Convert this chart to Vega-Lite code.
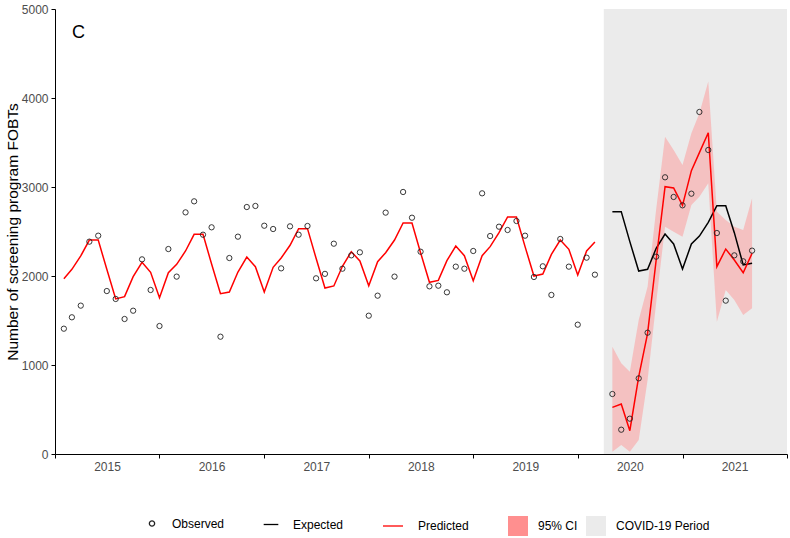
{
  "$schema": "https://vega.github.io/schema/vega-lite/v6.json",
  "width": 732,
  "height": 445,
  "autosize": "none",
  "padding": {"left": 55, "top": 9, "right": 3, "bottom": 84},
  "background": "white",
  "config": {
    "font": "Liberation Sans",
    "view": {"stroke": null},
    "axis": {
      "grid": false,
      "domainColor": "black",
      "domainWidth": 1,
      "tickColor": "black",
      "tickWidth": 1,
      "tickSize": 4,
      "labelColor": "#4d4d4d",
      "labelFontSize": 12,
      "labelFont": "Liberation Sans",
      "titleFont": "Liberation Sans",
      "titleColor": "black",
      "titleFontWeight": "normal"
    },
    "legend": {"labelFont": "Liberation Sans", "labelFontSize": 12, "labelColor": "black", "padding": 0}
  },
  "datasets": {
    "monthly": [
      {"date": "2015-02-01", "period": "pre", "observed": 1408, "predicted": 1970},
      {"date": "2015-03-01", "period": "pre", "observed": 1536, "predicted": 2075},
      {"date": "2015-04-01", "period": "pre", "observed": 1667, "predicted": 2225},
      {"date": "2015-05-01", "period": "pre", "observed": 2386, "predicted": 2404},
      {"date": "2015-06-01", "period": "pre", "observed": 2453, "predicted": 2404},
      {"date": "2015-07-01", "period": "pre", "observed": 1831, "predicted": 2075},
      {"date": "2015-08-01", "period": "pre", "observed": 1742, "predicted": 1742},
      {"date": "2015-09-01", "period": "pre", "observed": 1517, "predicted": 1768},
      {"date": "2015-10-01", "period": "pre", "observed": 1610, "predicted": 1993},
      {"date": "2015-11-01", "period": "pre", "observed": 2187, "predicted": 2154},
      {"date": "2015-12-01", "period": "pre", "observed": 1843, "predicted": 2041},
      {"date": "2016-01-01", "period": "pre", "observed": 1438, "predicted": 1757},
      {"date": "2016-02-01", "period": "pre", "observed": 2303, "predicted": 2037},
      {"date": "2016-03-01", "period": "pre", "observed": 1993, "predicted": 2131},
      {"date": "2016-04-01", "period": "pre", "observed": 2715, "predicted": 2281},
      {"date": "2016-05-01", "period": "pre", "observed": 2839, "predicted": 2468},
      {"date": "2016-06-01", "period": "pre", "observed": 2464, "predicted": 2468},
      {"date": "2016-07-01", "period": "pre", "observed": 2547, "predicted": 2135},
      {"date": "2016-08-01", "period": "pre", "observed": 1318, "predicted": 1801},
      {"date": "2016-09-01", "period": "pre", "observed": 2202, "predicted": 1820},
      {"date": "2016-10-01", "period": "pre", "observed": 2442, "predicted": 2045},
      {"date": "2016-11-01", "period": "pre", "observed": 2775, "predicted": 2213},
      {"date": "2016-12-01", "period": "pre", "observed": 2787, "predicted": 2105},
      {"date": "2017-01-01", "period": "pre", "observed": 2565, "predicted": 1820},
      {"date": "2017-02-01", "period": "pre", "observed": 2528, "predicted": 2097},
      {"date": "2017-03-01", "period": "pre", "observed": 2086, "predicted": 2202},
      {"date": "2017-04-01", "period": "pre", "observed": 2558, "predicted": 2345},
      {"date": "2017-05-01", "period": "pre", "observed": 2464, "predicted": 2532},
      {"date": "2017-06-01", "period": "pre", "observed": 2562, "predicted": 2532},
      {"date": "2017-07-01", "period": "pre", "observed": 1974, "predicted": 2199},
      {"date": "2017-08-01", "period": "pre", "observed": 2024, "predicted": 1865},
      {"date": "2017-09-01", "period": "pre", "observed": 2363, "predicted": 1888},
      {"date": "2017-10-01", "period": "pre", "observed": 2082, "predicted": 2109},
      {"date": "2017-11-01", "period": "pre", "observed": 2232, "predicted": 2273},
      {"date": "2017-12-01", "period": "pre", "observed": 2266, "predicted": 2169},
      {"date": "2018-01-01", "period": "pre", "observed": 1554, "predicted": 1891},
      {"date": "2018-02-01", "period": "pre", "observed": 1779, "predicted": 2161},
      {"date": "2018-03-01", "period": "pre", "observed": 2712, "predicted": 2262},
      {"date": "2018-04-01", "period": "pre", "observed": 1993, "predicted": 2404},
      {"date": "2018-05-01", "period": "pre", "observed": 2944, "predicted": 2596},
      {"date": "2018-06-01", "period": "pre", "observed": 2655, "predicted": 2596},
      {"date": "2018-07-01", "period": "pre", "observed": 2273, "predicted": 2262},
      {"date": "2018-08-01", "period": "pre", "observed": 1884, "predicted": 1929},
      {"date": "2018-09-01", "period": "pre", "observed": 1891, "predicted": 1951},
      {"date": "2018-10-01", "period": "pre", "observed": 1817, "predicted": 2172},
      {"date": "2018-11-01", "period": "pre", "observed": 2105, "predicted": 2337},
      {"date": "2018-12-01", "period": "pre", "observed": 2082, "predicted": 2228},
      {"date": "2019-01-01", "period": "pre", "observed": 2281, "predicted": 1947},
      {"date": "2019-02-01", "period": "pre", "observed": 2929, "predicted": 2228},
      {"date": "2019-03-01", "period": "pre", "observed": 2449, "predicted": 2330},
      {"date": "2019-04-01", "period": "pre", "observed": 2554, "predicted": 2487},
      {"date": "2019-05-01", "period": "pre", "observed": 2517, "predicted": 2663},
      {"date": "2019-06-01", "period": "pre", "observed": 2618, "predicted": 2663},
      {"date": "2019-07-01", "period": "pre", "observed": 2453, "predicted": 2330},
      {"date": "2019-08-01", "period": "pre", "observed": 1989, "predicted": 2000},
      {"date": "2019-09-01", "period": "pre", "observed": 2109, "predicted": 2022},
      {"date": "2019-10-01", "period": "pre", "observed": 1787, "predicted": 2243},
      {"date": "2019-11-01", "period": "pre", "observed": 2416, "predicted": 2404},
      {"date": "2019-12-01", "period": "pre", "observed": 2105, "predicted": 2300},
      {"date": "2020-01-01", "period": "pre", "observed": 1453, "predicted": 2011},
      {"date": "2020-02-01", "period": "pre", "observed": 2206, "predicted": 2281},
      {"date": "2020-03-01", "period": "pre", "observed": 2015, "predicted": 2382},
      {"date": "2020-05-01", "period": "covid", "observed": 674, "predicted": 524, "lower": 26, "upper": 1206, "expected": 2723},
      {"date": "2020-06-01", "period": "covid", "observed": 273, "predicted": 562, "lower": 101, "upper": 1019, "expected": 2723},
      {"date": "2020-07-01", "period": "covid", "observed": 397, "predicted": 262, "lower": 26, "upper": 925, "expected": 2386},
      {"date": "2020-08-01", "period": "covid", "observed": 850, "predicted": 869, "lower": 157, "upper": 1506, "expected": 2056},
      {"date": "2020-09-01", "period": "covid", "observed": 1363, "predicted": 1356, "lower": 831, "upper": 1880, "expected": 2075},
      {"date": "2020-10-01", "period": "covid", "observed": 2217, "predicted": 2180, "lower": 1700, "upper": 2750, "expected": 2311},
      {"date": "2020-11-01", "period": "covid", "observed": 3109, "predicted": 3004, "lower": 2554, "upper": 3566, "expected": 2472},
      {"date": "2020-12-01", "period": "covid", "observed": 2888, "predicted": 2989, "lower": 2498, "upper": 3416, "expected": 2360},
      {"date": "2021-01-01", "period": "covid", "observed": 2794, "predicted": 2794, "lower": 2442, "upper": 3247, "expected": 2079},
      {"date": "2021-02-01", "period": "covid", "observed": 2925, "predicted": 3184, "lower": 2798, "upper": 3603, "expected": 2360},
      {"date": "2021-03-01", "period": "covid", "observed": 3843, "predicted": 3386, "lower": 2891, "upper": 3828, "expected": 2449},
      {"date": "2021-04-01", "period": "covid", "observed": 3416, "predicted": 3610, "lower": 3041, "upper": 4184, "expected": 2603},
      {"date": "2021-05-01", "period": "covid", "observed": 2483, "predicted": 2105, "lower": 1487, "upper": 2722, "expected": 2790},
      {"date": "2021-06-01", "period": "covid", "observed": 1723, "predicted": 2303, "lower": 1843, "upper": 2629, "expected": 2790},
      {"date": "2021-07-01", "period": "covid", "observed": 2232, "predicted": 2180, "lower": 1730, "upper": 2554, "expected": 2487},
      {"date": "2021-08-01", "period": "covid", "observed": 2165, "predicted": 2037, "lower": 1562, "upper": 2517, "expected": 2124},
      {"date": "2021-09-01", "period": "covid", "observed": 2285, "predicted": 2255, "lower": 1637, "upper": 2873, "expected": 2143}
    ],
    "covidPeriod": [{"start": "2020-04-01", "end": "2022-01-01"}],
    "panel": [{"label": "C"}]
  },
  "layer": [
    {
      "data": {"name": "covidPeriod"},
      "mark": {"type": "rect"},
      "encoding": {
        "x": {
          "field": "start",
          "type": "temporal",
          "scale": {"type": "utc", "domain": [{"year": 2015, "month": 1, "date": 1, "utc": true}, {"year": 2022, "month": 1, "date": 1, "utc": true}]},
          "axis": {
            "title": null,
            "values": [
              {"year": 2015, "month": 1, "date": 1, "utc": true},
              {"year": 2016, "month": 1, "date": 1, "utc": true},
              {"year": 2017, "month": 1, "date": 1, "utc": true},
              {"year": 2018, "month": 1, "date": 1, "utc": true},
              {"year": 2019, "month": 1, "date": 1, "utc": true},
              {"year": 2020, "month": 1, "date": 1, "utc": true},
              {"year": 2021, "month": 1, "date": 1, "utc": true},
              {"year": 2022, "month": 1, "date": 1, "utc": true}
            ],
            "labelExpr": "utcyear(datum.value) == 2022 ? '' : utcFormat(datum.value, '%Y')",
            "labelOffset": 52,
            "labelFlush": false,
            "labelOverlap": false,
            "labelPadding": 3
          }
        },
        "x2": {"field": "end"},
        "y": {
          "datum": 0,
          "type": "quantitative",
          "scale": {"domain": [0, 5000], "nice": false},
          "axis": {"title": "Number of screening program FOBTs", "titleFontSize": 15.5, "titlePadding": 1, "values": [0, 1000, 2000, 3000, 4000, 5000], "format": "d", "labelPadding": 3}
        },
        "y2": {"datum": 5000},
        "fill": {
          "datum": "COVID-19 Period",
          "scale": {"domain": ["95% CI", "COVID-19 Period"], "range": ["#ff8f8f", "#ebebeb"]},
          "legend": {
            "title": null,
            "orient": "none",
            "legendX": 452,
            "legendY": 506,
            "direction": "horizontal",
            "symbolType": "square",
            "symbolSize": 400,
            "labelOffset": 9,
            "columnPadding": 7
          }
        }
      }
    },
    {
      "data": {"name": "monthly"},
      "mark": {"type": "area", "fillOpacity": 0.45},
      "encoding": {
        "x": {"field": "date", "type": "temporal", "axis": {"title": null}},
        "y": {"field": "upper", "type": "quantitative", "axis": {"title": "Number of screening program FOBTs"}},
        "y2": {"field": "lower"},
        "fill": {"datum": "95% CI"}
      }
    },
    {
      "data": {"name": "monthly"},
      "mark": {"type": "line", "strokeWidth": 1.5},
      "encoding": {
        "x": {"field": "date", "type": "temporal", "axis": {"title": null}},
        "y": {"field": "expected", "type": "quantitative", "axis": {"title": "Number of screening program FOBTs"}},
        "color": {"datum": "Expected"}
      }
    },
    {
      "data": {"name": "monthly"},
      "mark": {"type": "line", "strokeWidth": 1.5},
      "encoding": {
        "x": {"field": "date", "type": "temporal", "axis": {"title": null}},
        "y": {"field": "predicted", "type": "quantitative", "axis": {"title": "Number of screening program FOBTs"}},
        "detail": {"field": "period"},
        "color": {"datum": "Predicted"}
      }
    },
    {
      "data": {"name": "monthly"},
      "mark": {"type": "point", "filled": false, "strokeWidth": 0.9, "opacity": 1},
      "encoding": {
        "x": {"field": "date", "type": "temporal", "axis": {"title": null}},
        "y": {"field": "observed", "type": "quantitative", "axis": {"title": "Number of screening program FOBTs"}},
        "shape": {
          "datum": "Observed",
          "scale": {"domain": ["Observed", "Expected", "Predicted"], "range": ["circle", "stroke", "stroke"]},
          "legend": {
            "title": null,
            "orient": "none",
            "legendX": 91,
            "legendY": 506,
            "direction": "horizontal",
            "labelOffset": 14,
            "columnPadding": 36,
            "symbolStrokeWidth": 1.3
          }
        },
        "size": {
          "datum": "Observed",
          "scale": {"domain": ["Observed", "Expected", "Predicted"], "range": [28, 400, 400]},
          "legend": {
            "title": null,
            "orient": "none",
            "legendX": 91,
            "legendY": 506,
            "direction": "horizontal",
            "labelOffset": 14,
            "columnPadding": 36,
            "symbolStrokeWidth": 1.3
          }
        },
        "color": {
          "datum": "Observed",
          "scale": {"domain": ["Observed", "Expected", "Predicted"], "range": ["#222222", "black", "red"]},
          "legend": {
            "title": null,
            "orient": "none",
            "legendX": 91,
            "legendY": 506,
            "direction": "horizontal",
            "labelOffset": 14,
            "columnPadding": 36,
            "symbolStrokeWidth": 1.3
          }
        }
      }
    },
    {
      "data": {"name": "panel"},
      "mark": {"type": "text", "align": "left", "baseline": "alphabetic", "fontSize": 18, "font": "Liberation Sans", "color": "black"},
      "encoding": {
        "x": {"datum": {"year": 2015, "month": 3, "date": 1, "utc": true}, "type": "temporal"},
        "y": {"datum": 4670, "type": "quantitative"},
        "text": {"field": "label"}
      }
    }
  ]
}
